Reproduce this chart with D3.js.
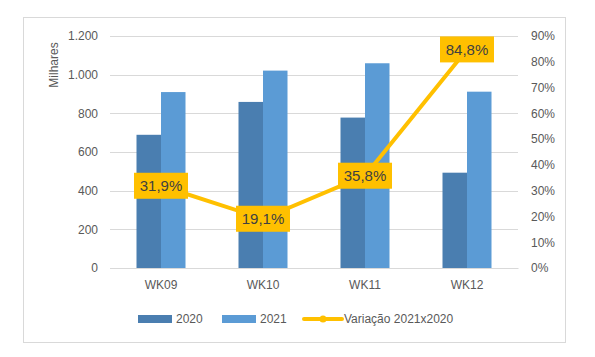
<!DOCTYPE html>
<html><head><meta charset="utf-8">
<script src="https://cdn.jsdelivr.net/npm/d3@7"></script>
<style>body{margin:0;background:#fff}svg{display:block;font-family:"Liberation Sans",Arial,sans-serif}</style>
</head><body>
<script>
const categories = ["WK09","WK10","WK11","WK12"];
const series2020 = [689, 859, 778, 493];
const series2021 = [910, 1021, 1059, 912];
const variation = [0.319, 0.191, 0.358, 0.848];
const variationLabels = ["31,9%","19,1%","35,8%","84,8%"];
const leftTicks = [0,200,400,600,800,1000,1200];
const rightTicks = [0,0.1,0.2,0.3,0.4,0.5,0.6,0.7,0.8,0.9];
const seriesNames = ["2020","2021","Variação 2021x2020"];

const W=595,H=357;
const svg=d3.select("body").append("svg").attr("width",W).attr("height",H);
svg.append("rect").attr("x",23.5).attr("y",17.5).attr("width",542).attr("height",325)
  .attr("fill","#fff").attr("stroke","#d9d9d9").attr("stroke-width",1);

const x0=110,x1=518,yTop=36,yBot=268;
const x=d3.scaleBand().domain(categories).range([x0,x1]);
const yL=d3.scaleLinear().domain([0,1200]).range([yBot,yTop]);
const yR=d3.scaleLinear().domain([0,0.9]).range([yBot,yTop]);
const fmtL=d=>d3.format(",")(d).replace(/,/g,".");

// gridlines
svg.append("g").selectAll("line").data(leftTicks).join("line")
  .attr("x1",x0).attr("x2",x1).attr("y1",d=>Math.round(yL(d))+0.5).attr("y2",d=>Math.round(yL(d))+0.5)
  .attr("stroke","#d9d9d9").attr("stroke-width",1);

// left axis
const gl=svg.append("g").attr("transform",`translate(${x0},0)`)
  .call(d3.axisLeft(yL).tickValues(leftTicks).tickFormat(fmtL).tickSize(0).tickPadding(12));
gl.select(".domain").remove();
gl.selectAll("text").attr("font-size",12).attr("fill","#595959").attr("font-family","Liberation Sans, Arial");

// right axis
const gr=svg.append("g").attr("transform",`translate(${x1},0)`)
  .call(d3.axisRight(yR).tickValues(rightTicks).tickFormat(d=>Math.round(d*100)+"%").tickSize(0).tickPadding(13));
gr.select(".domain").remove();
gr.selectAll("text").attr("font-size",12).attr("fill","#595959").attr("font-family","Liberation Sans, Arial");

// bars
const bw=24.5;
const bars=[{name:"2020",vals:series2020,color:"#4a7eb0",off:-bw},{name:"2021",vals:series2021,color:"#5b9bd5",off:0}];
bars.forEach(s=>{
  svg.append("g").selectAll("rect").data(categories).join("rect")
    .attr("x",(d)=>x(d)+x.bandwidth()/2+s.off)
    .attr("y",(d,i)=>yL(s.vals[i]))
    .attr("width",bw)
    .attr("height",(d,i)=>yBot-yL(s.vals[i]))
    .attr("fill",s.color);
});

// category axis
const gx=svg.append("g").attr("transform",`translate(0,${yBot})`)
  .call(d3.axisBottom(x).tickSize(0).tickPadding(12));
gx.select(".domain").attr("stroke","#d9d9d9");
gx.selectAll("text").attr("font-size",12).attr("fill","#595959").attr("font-family","Liberation Sans, Arial");

// line
const line=d3.line().x((d,i)=>x(categories[i])+x.bandwidth()/2).y(d=>yR(d));
svg.append("path").datum(variation).attr("d",line).attr("fill","none")
  .attr("stroke","#ffc000").attr("stroke-width",4).attr("stroke-linejoin","round");

// labels
const lg=svg.append("g").selectAll("g").data(variation).join("g")
  .attr("transform",(d,i)=>`translate(${x(categories[i])+x.bandwidth()/2},${yR(d)})`);
lg.append("rect").attr("x",-27).attr("y",-13).attr("width",54).attr("height",26).attr("fill","#ffc000");
lg.append("text").text((d,i)=>variationLabels[i]).attr("text-anchor","middle").attr("dy","0.36em")
  .attr("font-size",15).attr("fill","#404040");

// y title
svg.append("text").attr("transform","translate(58,65) rotate(-90)").attr("text-anchor","middle")
  .attr("font-size",12).attr("fill","#595959").text("Milhares");

// legend
const ly=319;
svg.append("rect").attr("x",138).attr("y",ly-4).attr("width",34).attr("height",8).attr("fill","#4a7eb0");
svg.append("text").attr("x",176).attr("y",ly).attr("dy","0.36em").attr("font-size",12).attr("fill","#595959").text(seriesNames[0]);
svg.append("rect").attr("x",222).attr("y",ly-4).attr("width",34).attr("height",8).attr("fill","#5b9bd5");
svg.append("text").attr("x",260).attr("y",ly).attr("dy","0.36em").attr("font-size",12).attr("fill","#595959").text(seriesNames[1]);
svg.append("line").attr("x1",304).attr("x2",342).attr("y1",ly).attr("y2",ly).attr("stroke","#ffc000").attr("stroke-width",4).attr("stroke-linecap","round");
svg.append("circle").attr("cx",323).attr("cy",ly).attr("r",3.5).attr("fill","#ffc000");
svg.append("text").attr("x",344).attr("y",ly).attr("dy","0.36em").attr("font-size",12).attr("fill","#595959").text(seriesNames[2]);
</script>
</body></html>
